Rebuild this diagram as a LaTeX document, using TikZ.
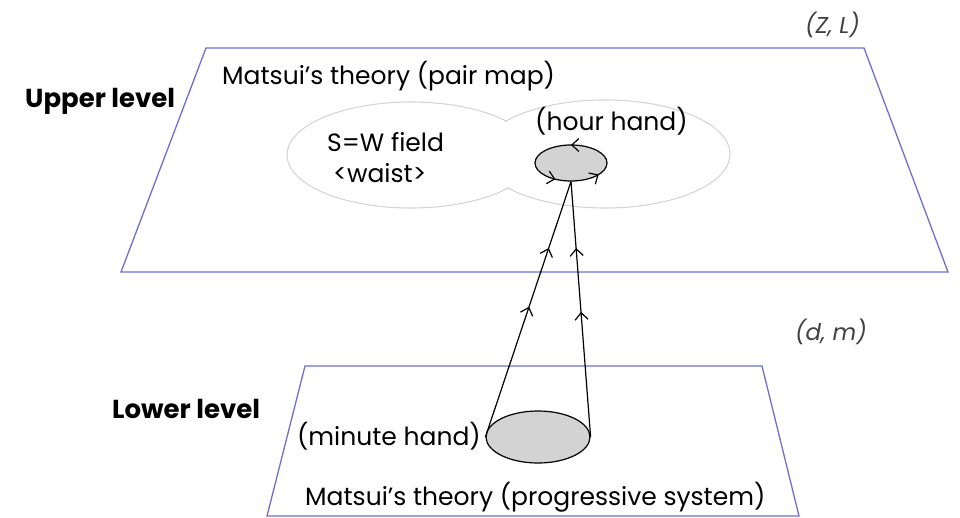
\documentclass[tikz,border=0pt]{standalone}
\usepackage{fontspec}
\setmainfont{Poppins}
\usetikzlibrary{arrows.meta,decorations.markings,shapes.geometric}
\definecolor{planeblue}{RGB}{112,112,200}
\definecolor{cloudgray}{RGB}{212,212,212}
\definecolor{handfill}{RGB}{211,211,211}
\begin{document}
\begin{tikzpicture}[x=1pt,y=-1pt,
  plane/.style={draw=planeblue,line width=1.3pt},
  cloud/.style={draw=cloudgray,line width=1.1pt},
  hand/.style={ellipse,draw=black,fill=handfill,line width=1.2pt,inner sep=0pt},
  link/.style={draw=black,line width=1.2pt},
  lbl/.style={font=\fontsize{25}{29}\selectfont,inner sep=0pt},
  lvl/.style={font=\fontsize{26}{30}\selectfont\bfseries,inner sep=0pt},
  coordlbl/.style={font=\fontsize{23}{27}\selectfont\itshape,inner sep=0pt,text=black!75},
  barb/.tip={Straight Barb[length=7pt,width=13pt,line width=1.2pt]},
  twoarrows/.style 2 args={postaction={decorate,decoration={markings,
     mark=at position #1 with {\arrow{barb}},
     mark=at position #2 with {\arrow{barb}}}}},
  threearrows/.style={postaction={decorate,decoration={markings,
     mark=at position 0.25 with {\arrow{barb}},
     mark=at position 0.66 with {\arrow{barb}},
     mark=at position 0.915 with {\arrow{barb}}}}}
]
\fill[white] (0,0) rectangle (960,518);
\useasboundingbox (0,0) rectangle (960,518);

% planes
\draw[plane] (206,48) -- (864,48) -- (948,272) -- (121,272) -- cycle;
\draw[plane] (305,366) -- (762,366) -- (799,516) -- (267,516) -- cycle;

% cloud (two overlapping ellipses, outer outline only)
\draw[cloud] (411,155) ellipse [x radius=124, y radius=53];
\draw[cloud] (605,154) ellipse [x radius=125, y radius=54];
\fill[white] (411,155) ellipse [x radius=123, y radius=52];
\fill[white] (605,154) ellipse [x radius=124, y radius=53];

% texts
\node[lbl, anchor=base west] (pairmap) at (222,85) {Matsui’s theory (pair map)};
\node[lbl, anchor=base west] (sw) at (327,152) {S=W field};
\node[lbl, anchor=base west] (waist) at (333,183) {<waist>};
\node[lbl, anchor=base west] (hourlbl) at (535,131) {(hour hand)};
\node[lbl, anchor=base west] (prog) at (305,505) {Matsui’s theory (progressive system)};
\node[lvl, anchor=base west] (upper) at (25,108) {Upper level};
\node[lvl, anchor=base west] (lower) at (112,418) {Lower level};
\node[coordlbl, anchor=base east] (ZL) at (860,34) {(Z, L)};
\node[coordlbl, anchor=base west] (dm) at (795,340) {(d, m)};

% hands
\node[hand, minimum width=72pt, minimum height=36pt] (hour) at (571,163) {};
\node[hand, minimum width=104pt, minimum height=52pt] (minute) at (538,437) {};
\node[lbl, anchor=base east] (minlbl) at (481,445) {(minute hand)};

\path[threearrows] (607,163) arc[start angle=0, end angle=-360, x radius=36, y radius=18];

% connectors
\draw[link, twoarrows={0.51}{0.74}] (minute.west) -- (hour.south);
\draw[link, twoarrows={0.49}{0.74}] (minute.east) -- (hour.south);
\end{tikzpicture}
\end{document}
